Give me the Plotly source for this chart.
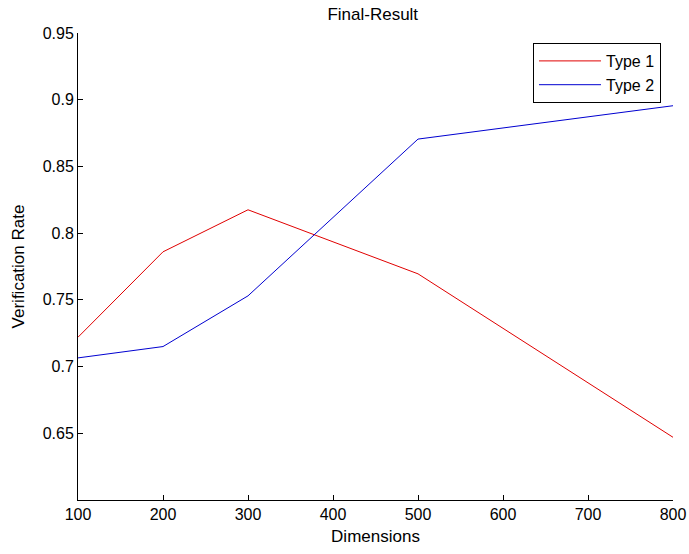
import plotly.graph_objects as go

dims = [100, 200, 300, 500, 800]
type1 = [0.722, 0.786, 0.8175, 0.7695, 0.647]
type2 = [0.7065, 0.715, 0.753, 0.8705, 0.8955]
x_ticks = [100, 200, 300, 400, 500, 600, 700, 800]
y_ticks = [0.65, 0.7, 0.75, 0.8, 0.85, 0.9, 0.95]
y_labels = ["0.65", "0.7", "0.75", "0.8", "0.85", "0.9", "0.95"]

font = "Liberation Sans, Arial, sans-serif"

fig = go.Figure()
fig.add_trace(go.Scatter(x=dims, y=type1, mode="lines", name="Type 1",
                         line=dict(color="#e00000", width=1)))
fig.add_trace(go.Scatter(x=dims, y=type2, mode="lines", name="Type 2",
                         line=dict(color="#0000d0", width=1)))

fig.update_layout(
    width=689, height=554,
    margin=dict(l=78, r=16, t=33, b=54),
    paper_bgcolor="white", plot_bgcolor="white",
    font=dict(family=font, size=16, color="black"),
    title=dict(text="Final-Result", x=0.541, xanchor="center", y=0.975, yanchor="middle",
               font=dict(size=17)),
    showlegend=True,
    legend=dict(x=0.7647, xanchor="left", y=0.9786, yanchor="top",
                bordercolor="black", borderwidth=1, bgcolor="white",
                font=dict(size=16), tracegroupgap=0, itemwidth=62),
    xaxis=dict(range=[100, 800], tickmode="array", tickvals=x_ticks,
               ticktext=[str(v) for v in x_ticks], automargin=False,
               showline=True, linecolor="black", linewidth=1,
               ticks="inside", ticklen=5, tickcolor="black",
               showgrid=False, zeroline=False,
               tickfont=dict(size=16),
               title=dict(text="Dimensions", standoff=7, font=dict(size=17))),
    yaxis=dict(range=[0.6, 0.95], tickmode="array", tickvals=y_ticks,
               ticktext=y_labels, automargin=False,
               showline=True, linecolor="black", linewidth=1,
               ticks="inside", ticklen=5, tickcolor="black",
               showgrid=False, zeroline=False,
               tickfont=dict(size=16),
               title=dict(text="Verification Rate", standoff=13, font=dict(size=17))),
)

fig.write_html("out.html", config={"displayModeBar": False},
               post_script="document.body.style.margin='0';")
